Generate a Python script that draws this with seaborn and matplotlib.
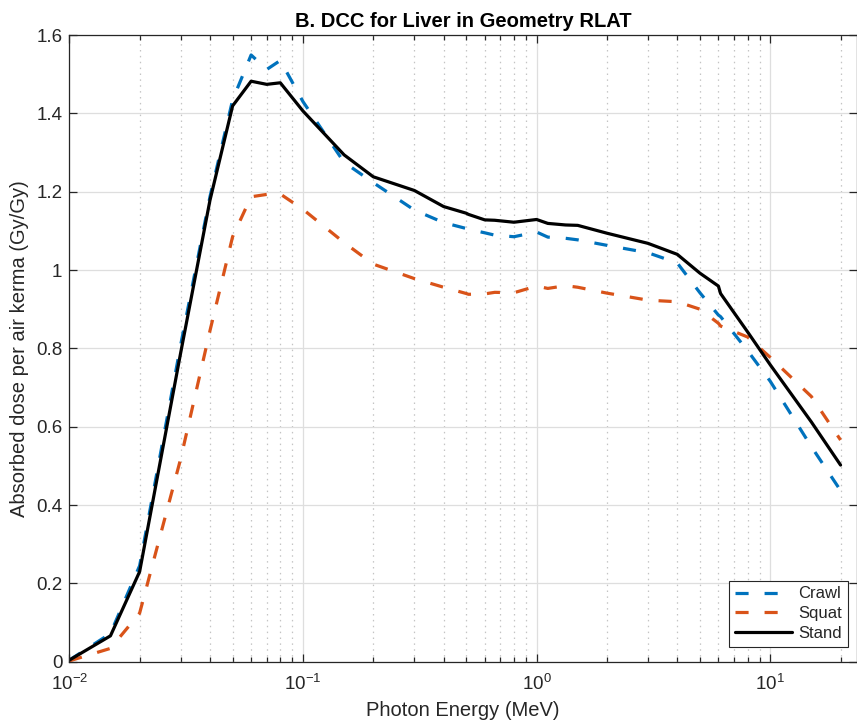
import numpy as np
import pandas as pd
import matplotlib
matplotlib.use("Agg")
import matplotlib.pyplot as plt
import seaborn as sns
from matplotlib.ticker import LogLocator, FixedLocator, FuncFormatter, NullFormatter

# ---- data ----
energy = [0.01, 0.015, 0.02, 0.03, 0.04, 0.05, 0.06, 0.07, 0.08, 0.1, 0.15, 0.2,
          0.3, 0.4, 0.5, 0.511, 0.6, 0.662, 0.8, 1.0, 1.117, 1.33, 1.5, 2, 3, 4,
          5, 6, 6.129, 8, 10, 15, 20]
crawl = [0.004, 0.072, 0.245, 0.810, 1.187, 1.434, 1.549, 1.512, 1.535, 1.430,
         1.275, 1.223, 1.153, 1.121, 1.106, 1.104, 1.095, 1.089, 1.085, 1.097,
         1.084, 1.081, 1.077, 1.063, 1.044, 1.018, 0.942, 0.885, 0.881, 0.794,
         0.716, 0.549, 0.437]
squat = [0.002, 0.034, 0.124, 0.519, 0.845, 1.085, 1.187, 1.193, 1.194, 1.155,
         1.070, 1.015, 0.978, 0.956, 0.940, 0.938, 0.939, 0.943, 0.942, 0.959,
         0.953, 0.960, 0.956, 0.941, 0.923, 0.919, 0.900, 0.864, 0.857, 0.829,
         0.777, 0.677, 0.566]
stand = [0.004, 0.066, 0.230, 0.790, 1.178, 1.419, 1.482, 1.474, 1.478, 1.406,
         1.294, 1.238, 1.203, 1.162, 1.145, 1.142, 1.128, 1.127, 1.122, 1.129,
         1.119, 1.115, 1.114, 1.094, 1.068, 1.040, 0.992, 0.959, 0.940, 0.842,
         0.758, 0.612, 0.502]
series_names = ["Crawl", "Squat", "Stand"]
yticks = [0, 0.2, 0.4, 0.6, 0.8, 1.0, 1.2, 1.4, 1.6]
xticks = [0.01, 0.1, 1, 10]

title = "B. DCC for Liver in Geometry RLAT"
xlabel = "Photon Energy (MeV)"
ylabel = "Absorbed dose per air kerma (Gy/Gy)"

df = pd.DataFrame({
    "E": energy * 3,
    "v": crawl + squat + stand,
    "posture": [series_names[0]] * len(energy) + [series_names[1]] * len(energy)
               + [series_names[2]] * len(energy),
})

# ---- style ----
sns.set_theme(style="white")
plt.rcParams["font.family"] = ["Liberation Sans", "DejaVu Sans"]
plt.rcParams["axes.unicode_minus"] = False
plt.rcParams["mathtext.fontset"] = "custom"
plt.rcParams["mathtext.rm"] = "Liberation Sans"
plt.rcParams["mathtext.it"] = "Liberation Sans:italic"
plt.rcParams["mathtext.bf"] = "Liberation Sans:bold"

axcol = "#262626"
palette = {"Crawl": "#0072BD", "Squat": "#D95319", "Stand": "#000000"}
dash_pat = (4.1, 5.0)
dashes = {"Crawl": dash_pat, "Squat": dash_pat, "Stand": ""}
LW = 2.3

W, H = 857, 728
fig = plt.figure(figsize=(W / 100, H / 100), dpi=100)
left, right, top, bottom = 69.3, 856.5, 35.0, 661.7
ax = fig.add_axes([left / W, 1 - bottom / H, (right - left) / W, (bottom - top) / H])

sns.lineplot(data=df, x="E", y="v", hue="posture", style="posture",
             palette=palette, dashes=dashes, linewidth=LW, ax=ax,
             estimator=None, legend=True)

ax.set_xscale("log")
ax.set_xlim(0.01, 23.4)
ax.set_ylim(0, 1.6)
ax.xaxis.set_major_locator(FixedLocator(xticks))
ax.xaxis.set_minor_locator(LogLocator(base=10, subs=np.arange(2, 10), numticks=20))
ax.xaxis.set_minor_formatter(NullFormatter())
ax.xaxis.set_major_formatter(FuncFormatter(
    lambda v, p: r"$\mathdefault{10^{%d}}$" % int(round(np.log10(v)))))
ax.set_yticks(yticks)
ax.yaxis.set_major_formatter(FuncFormatter(lambda v, p: "%g" % v))

ax.set_axisbelow(True)
ax.grid(which="major", axis="both", color="#dedede", linewidth=0.9, linestyle="-")
ax.grid(which="minor", axis="x", color="#c4c4c4", linewidth=0.9, linestyle=(0, (1.2, 3.5)))

for s in ax.spines.values():
    s.set_color(axcol)
    s.set_linewidth(0.9)
    s.set_visible(True)

ax.tick_params(which="both", direction="in", top=True, right=True, bottom=True,
               left=True, color=axcol, labelcolor=axcol, width=0.9)
ax.tick_params(which="major", length=6)
ax.tick_params(which="minor", length=3.5)
ax.tick_params(axis="x", which="major", labelsize=13.5, pad=9)
ax.tick_params(axis="y", which="major", labelsize=13.5, pad=5)

ax.set_title(title, fontsize=14.5, fontweight="bold", color="black", pad=6)
ax.set_xlabel(xlabel, fontsize=14.5, color=axcol, labelpad=5)
ax.set_ylabel(ylabel, fontsize=14.5, color=axcol, labelpad=5)

handles, labels = ax.get_legend_handles_labels()
pairs = [(h, l) for h, l in zip(handles, labels) if l in series_names]
leg = ax.legend([p[0] for p in pairs], [p[1] for p in pairs], loc="lower right",
                bbox_to_anchor=(0.989, 0.024), borderaxespad=0, frameon=True,
                fancybox=False, framealpha=1, edgecolor=axcol, fontsize=12,
                handlelength=3.4, handletextpad=0.4, labelspacing=0.28,
                borderpad=0.35)
leg.get_frame().set_linewidth(0.8)
for line in leg.get_lines():
    line.set_linewidth(LW)

fig.savefig("out.png", dpi=100)
